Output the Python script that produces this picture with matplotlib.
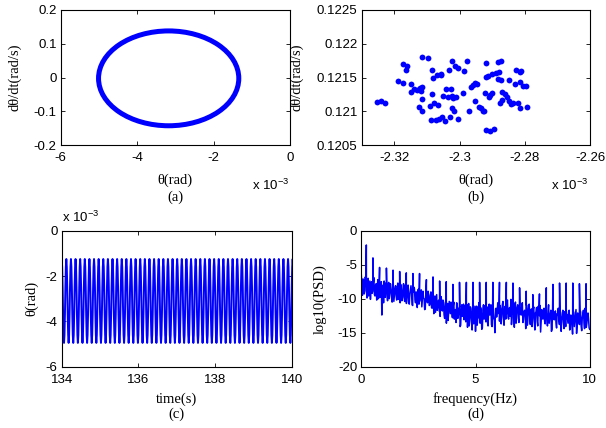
import numpy as np
import matplotlib
matplotlib.use('Agg')
import matplotlib.pyplot as plt
from matplotlib.patches import Ellipse

# (a) phase portrait: limit cycle (theta in 1e-3 rad)
a_center = (-3.175, -0.0025)
a_half_width = 1.835
a_half_height = 0.1405

# (b) Poincare section points (theta in 1e-3 rad, dtheta/dt in rad/s)
b_theta = [-2.3252, -2.3240, -2.3230, -2.3188, -2.3174, -2.3174, -2.3160, -2.3164,
           -2.3150, -2.3148, -2.3140, -2.3132, -2.3120, -2.3118, -2.3114, -2.3114,
           -2.3098, -2.3114, -2.3124, -2.3114, -2.3084, -2.3082, -2.3068, -2.3058,
           -2.3056, -2.3084, -2.3092, -2.3078, -2.3066, -2.3088, -2.3072, -2.3062,
           -2.3054, -2.3044, -2.3030, -2.3050, -2.3036, -2.3026, -2.3024, -2.3020,
           -2.3012, -2.3042, -2.3034, -2.3022, -2.3014, -2.3004, -2.2988, -2.2978,
           -2.3022, -2.3016, -2.3006, -2.2990, -2.2970, -2.2966, -2.2960, -2.2952,
           -2.2948, -2.2952, -2.2934, -2.2930, -2.2924, -2.2940, -2.2918, -2.2918,
           -2.2922, -2.2918, -2.2908, -2.2894, -2.2884, -2.2874, -2.2914, -2.2900,
           -2.2888, -2.2880, -2.2882, -2.2874, -2.2850, -2.2826, -2.2814, -2.2812,
           -2.2830, -2.2814, -2.2806, -2.2796, -2.2908, -2.2902, -2.2910, -2.2870,
           -2.2860, -2.2854, -2.2878, -2.2870, -2.2850, -2.2844, -2.2836, -2.2820,
           -2.2814, -2.2794]
b_dtheta = [0.121137, 0.121157, 0.121127, 0.121453, 0.121414, 0.121695, 0.121670, 0.121611,
            0.121404, 0.121280, 0.121325, 0.121315, 0.121349, 0.121305, 0.121364, 0.121809,
            0.121794, 0.121182, 0.121068, 0.121004, 0.121611, 0.121498, 0.121542, 0.121532,
            0.121552, 0.121251, 0.121078, 0.121127, 0.121088, 0.120870, 0.120870, 0.120880,
            0.120920, 0.120856, 0.120920, 0.121226, 0.121216, 0.121330, 0.121226, 0.121196,
            0.121211, 0.121330, 0.121611, 0.121740, 0.121665, 0.121646, 0.121601, 0.121749,
            0.121043, 0.121004, 0.120885, 0.121265, 0.121004, 0.121364, 0.121389, 0.121423,
            0.121404, 0.121152, 0.121043, 0.121009, 0.121009, 0.121068, 0.121710, 0.121512,
            0.121265, 0.120722, 0.120712, 0.120742, 0.121725, 0.121740, 0.121522, 0.121547,
            0.121562, 0.121577, 0.121478, 0.121463, 0.121463, 0.121611, 0.121586, 0.121601,
            0.121399, 0.121433, 0.121379, 0.121379, 0.121241, 0.121275, 0.121206, 0.121290,
            0.121251, 0.121216, 0.121127, 0.121167, 0.121152, 0.121107, 0.121117, 0.121117,
            0.121053, 0.121068]

# (c) time history: one oscillation cycle (1e-3 rad) and its period
c_cycle = [-1.25, -1.6, -2.5, -3.7, -4.6, -4.95, -4.6, -3.7, -2.5, -1.6]
c_period = 0.1205
c_t0, c_t1 = 134.0, 140.0

# (d) PSD: noise floor every 0.05 Hz (two interleaved sets) plus harmonic spikes
d_floor = [-6.5, -9.5, -7.2, -8.8, -7.6, -9.9, -7.0, -8.4, -10.1, -7.5,
           -8.9, -6.9, -9.6, -7.8, -8.2, -10.0, -7.3, -9.1, -12.4, -8.0,
           -7.4, -9.8, -8.3, -10.3, -7.6, -9.0, -8.6, -10.5, -7.9, -9.4,
           -8.1, -10.2, -7.7, -9.3, -10.6, -8.4, -9.9, -7.8, -10.4, -8.8,
           -9.6, -8.0, -10.8, -8.7, -9.2, -11.0, -8.3, -10.1, -9.0, -11.3,
           -8.6, -10.4, -9.1, -11.2, -8.9, -10.0, -11.5, -9.3, -10.6, -9.5,
           -10.9, -9.0, -11.4, -9.8, -10.5, -12.0, -9.4, -11.1, -10.2, -12.6,
           -9.7, -11.8, -10.6, -12.9, -10.1, -11.5, -13.2, -10.4, -12.2, -11.0,
           -12.8, -10.5, -11.9, -13.5, -10.8, -12.4, -11.2, -13.9, -10.9, -12.1,
           -13.1, -11.0, -12.6, -14.2, -10.7, -12.9, -11.5, -14.6, -11.3, -12.3,
           -14.8, -11.1, -12.7, -10.6, -13.6, -11.8, -14.3, -10.9, -12.5, -13.4,
           -11.2, -14.0, -10.8, -12.2, -13.8, -11.0, -12.9, -15.0, -11.4, -12.0,
           -10.7, -13.3, -11.5, -12.6, -10.4, -13.9, -11.1, -12.3, -10.2, -13.0,
           -11.3, -10.1, -12.8, -11.6, -14.2, -10.5, -12.0, -10.9, -13.5, -11.2,
           -12.4, -10.6, -13.1, -11.7, -14.4, -11.0, -12.7, -10.8, -13.8, -11.5,
           -12.9, -11.2, -14.6, -11.9, -13.3, -11.1, -12.5, -14.9, -11.6, -13.0,
           -11.4, -13.7, -12.1, -14.0, -10.9, -12.8, -11.7, -14.5, -12.2, -13.1,
           -11.8, -14.3, -12.4, -13.0, -11.5, -14.8, -12.6, -13.4, -11.9, -14.1,
           -12.3, -13.6, -11.7, -14.4, -12.8, -15.2, -12.0, -13.3, -11.6, -14.0,
           -12.5, -13.8, -11.9, -14.7, -12.2, -13.5, -11.4, -14.2, -12.7, -13.0,
           -14.5]
d_floor_mid = [-8.2, -7.1, -9.3, -6.8, -8.9, -7.7, -9.6, -7.4, -8.6, -9.2,
               -7.6, -9.4, -8.0, -10.2, -7.2, -8.7, -9.8, -7.5, -9.0, -10.6,
               -8.8, -7.7, -9.5, -8.1, -10.0, -7.8, -9.7, -8.2, -10.4, -8.5,
               -9.6, -8.3, -10.1, -8.9, -7.9, -10.3, -8.6, -9.8, -8.0, -10.7,
               -8.4, -10.5, -9.3, -8.1, -10.9, -9.0, -8.5, -10.6, -9.7, -8.8,
               -10.8, -9.4, -8.7, -10.1, -9.9, -11.6, -9.2, -10.3, -8.9, -11.0,
               -9.5, -11.3, -10.0, -12.2, -9.6, -10.8, -11.7, -10.3, -11.9, -10.1,
               -11.6, -10.2, -12.4, -11.1, -13.6, -10.7, -12.0, -11.3, -10.5, -12.7,
               -11.1, -13.0, -11.6, -10.6, -12.9, -11.4, -14.1, -11.8, -12.6, -10.8,
               -11.9, -13.4, -10.9, -12.2, -14.0, -11.2, -13.3, -11.6, -13.7, -11.1,
               -12.3, -13.9, -11.6, -12.9, -11.3, -14.5, -11.7, -13.0, -11.0, -12.8,
               -13.5, -11.6, -12.4, -10.9, -14.1, -11.8, -13.2, -11.5, -12.7, -10.6,
               -12.2, -11.0, -13.7, -10.9, -12.5, -11.6, -13.0, -10.5, -12.7, -11.4,
               -12.6, -13.8, -11.0, -12.4, -10.8, -13.6, -11.3, -12.9, -10.7, -12.3,
               -11.2, -13.5, -11.9, -12.2, -10.9, -13.9, -11.4, -12.6, -11.8, -14.1,
               -11.6, -13.4, -12.1, -11.3, -14.0, -12.4, -11.0, -13.2, -12.6, -11.8,
               -13.3, -11.5, -12.9, -11.8, -13.6, -12.3, -14.8, -11.6, -13.0, -12.0,
               -13.6, -12.2, -11.4, -13.8, -12.1, -13.1, -11.7, -14.4, -12.5, -12.9,
               -13.0, -11.9, -14.6, -12.4, -13.2, -11.8, -14.1, -12.6, -15.1, -12.1,
               -13.4, -12.0, -14.0, -12.8, -11.7, -14.4, -12.3, -13.6, -12.1, -14.3]
d_spike_f = [0.22, 0.51, 0.80, 1.10, 1.39, 1.68, 1.97, 2.26, 2.55, 2.85, 3.14, 3.43,
             3.72, 4.01, 4.30, 4.60, 4.89, 5.18, 5.47, 5.76, 6.05, 6.35, 6.64, 6.93,
             7.22, 7.51, 7.80, 8.10, 8.39, 8.68, 8.97, 9.26, 9.55, 9.84]
d_spike_v = [-2.1, -4.0, -5.4, -5.5, -5.8, -6.0, -6.2, -6.3, -6.3, -7.2, -6.8, -7.4,
             -7.5, -7.9, -7.6, -7.6, -7.6, -7.6, -7.6, -7.6, -7.6, -7.6, -7.7, -8.4,
             -8.9, -9.4, -9.3, -8.4, -7.9, -7.7, -7.7, -7.7, -7.8, -7.8]

blue = (0, 0, 1)
sans = 'Liberation Sans'
serif = 'Liberation Serif'
plt.rcParams['font.family'] = sans
plt.rcParams['mathtext.fontset'] = 'custom'
plt.rcParams['mathtext.rm'] = sans
plt.rcParams['mathtext.it'] = sans

fig = plt.figure(figsize=(6.06, 4.28), dpi=100)
W, H = 606.0, 428.0


def make_ax(l, t, r, b):
    ax = fig.add_axes([l / W, 1 - b / H, (r - l) / W, (b - t) / H])
    ax.tick_params(direction='in', top=True, right=True, length=3, width=0.6,
                   labelsize=9.5, pad=3)
    ax.tick_params(axis='x', pad=5)
    for s in ax.spines.values():
        s.set_linewidth(0.8)
    return ax


def lbl(ax, txt, x, y, rot=0):
    ax.text(x, y, txt, transform=ax.transAxes, family=serif, fontsize=10.5,
            ha='center', va='center', rotation=rot)


def sci(ax, x, y, ha):
    ax.text(x, y, 'x 10$^{-3}$', transform=ax.transAxes, fontsize=9.5,
            ha=ha, va='baseline')


# (a)
ax1 = make_ax(60.7, 10, 290, 145)
ax1.add_patch(Ellipse(a_center, 2 * a_half_width, 2 * a_half_height,
                      fill=False, edgecolor=blue, linewidth=3.6))
ax1.set_xlim(-6, 0)
ax1.set_ylim(-0.2, 0.2)
ax1.set_xticks([-6, -4, -2, 0])
ax1.set_yticks([-0.2, -0.1, 0, 0.1, 0.2])
ax1.set_yticklabels(['-0.2', '-0.1', '0', '0.1', '0.2'])
ax1.set_xticklabels(['-6', '-4', '-2', '0'])
lbl(ax1, 'θ(rad)', 0.5, -0.259)
lbl(ax1, '(a)', 0.5, -0.385)
lbl(ax1, 'dθ/dt(rad/s)', -0.199, 0.5, 90)
sci(ax1, 0.995, -0.335, 'right')

# (b)
ax2 = make_ax(361.7, 10, 590.3, 145)
ax2.plot(b_theta, b_dtheta, 'o', color=blue, markersize=4.2, markeredgewidth=0)
ax2.set_xlim(-2.33, -2.26)
ax2.set_ylim(0.1205, 0.1225)
ax2.set_xticks([-2.32, -2.30, -2.28, -2.26])
ax2.set_xticklabels(['-2.32', '-2.3', '-2.28', '-2.26'])
ax2.set_yticks([0.1205, 0.121, 0.1215, 0.122, 0.1225])
ax2.set_yticklabels(['0.1205', '0.121', '0.1215', '0.122', '0.1225'])
lbl(ax2, 'θ(rad)', 0.5, -0.259)
lbl(ax2, '(b)', 0.5, -0.385)
lbl(ax2, 'dθ/dt(rad/s)', -0.283, 0.5, 90)
sci(ax2, 0.99, -0.335, 'right')

# (c)
ax3 = make_ax(61.7, 230.7, 291.7, 366.7)
n_cyc = int(np.ceil((c_t1 - c_t0) / c_period)) + 1
c_vals = np.tile(c_cycle, n_cyc)
c_t = c_t0 + np.arange(len(c_vals)) * c_period / len(c_cycle)
ax3.plot(c_t, c_vals, color=blue, linewidth=1.4)
ax3.set_xlim(134, 140)
ax3.set_ylim(-6, 0)
ax3.set_xticks([134, 136, 138, 140])
ax3.set_yticks([-6, -4, -2, 0])
ax3.set_yticklabels(['-6', '-4', '-2', '0'])
lbl(ax3, 'time(s)', 0.5, -0.2375)
lbl(ax3, '(c)', 0.5, -0.348)
lbl(ax3, 'θ(rad)', -0.129, 0.5, 90)
sci(ax3, 0.0, 1.064, 'left')

# (d)
ax4 = make_ax(361.3, 230.7, 589.7, 366.7)
f_floor = np.arange(len(d_floor)) * 0.05
f_mid = np.arange(len(d_floor_mid)) * 0.05 + 0.025
f_all = np.concatenate([f_floor, f_mid, d_spike_f])
v_all = np.concatenate([d_floor, d_floor_mid, d_spike_v])
order = np.argsort(f_all)
ax4.plot(f_all[order], v_all[order], color=blue, linewidth=1.1)
ax4.set_xlim(0, 10)
ax4.set_ylim(-20, 0)
ax4.set_xticks([0, 5, 10])
ax4.set_yticks([-20, -15, -10, -5, 0])
ax4.set_yticklabels(['-20', '-15', '-10', '-5', '0'])
lbl(ax4, 'frequency(Hz)', 0.5, -0.2375)
lbl(ax4, '(d)', 0.5, -0.348)
lbl(ax4, 'log10(PSD)', -0.182, 0.5, 90)

fig.savefig('out.png', dpi=100)
